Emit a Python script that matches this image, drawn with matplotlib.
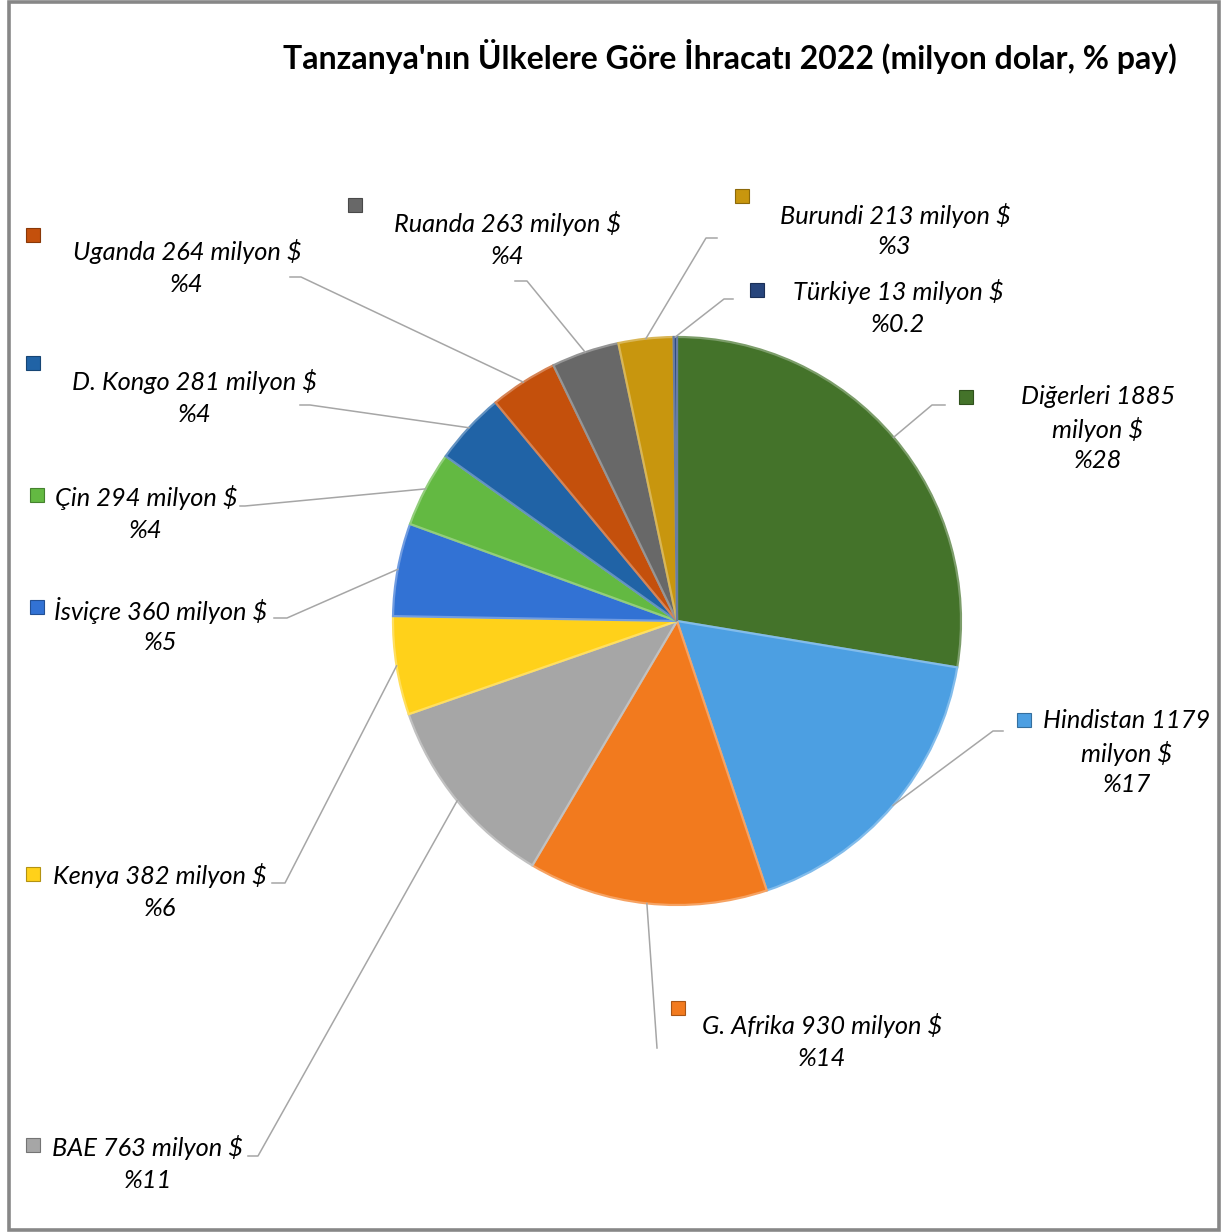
import numpy as np
import matplotlib; matplotlib.use("Agg")
import matplotlib.pyplot as plt
from matplotlib.patches import Rectangle
from matplotlib.colors import to_rgb

# data (milyon $), clockwise from 12 o'clock
countries = ["Diğerleri", "Hindistan", "G. Afrika", "BAE", "Kenya", "İsviçre",
             "Çin", "D. Kongo", "Uganda", "Ruanda", "Burundi", "Türkiye"]
values = [1885, 1179, 930, 763, 382, 360, 294, 281, 264, 263, 213, 13]
shares = ["28", "17", "14", "11", "6", "5", "4", "4", "4", "4", "3", "0.2"]
colors = ["#44732a", "#4c9fe2", "#f27a1e", "#a6a6a6", "#ffd11a", "#3272d4",
          "#63b942", "#2063a6", "#c4500c", "#686868", "#c8960e", "#27457c"]

W, H = 1223, 1232
Y = lambda y: H - y          # pixel row -> data y
CX, CY, R = 677, 621, 284

# label layout in pixels: marker (x,y), text centre x, first line y, elbow (x,y), end x
layout = {
    "Diğerleri": ((966, 397), 1098, 397, (932, 405), 945, True),
    "Hindistan": ((1024, 720), 1127, 721, (993, 731), 1003, True),
    "G. Afrika": ((678, 1008), 822, 1026, (657, 1048), 657, False),
    "BAE":       ((33, 1145), 148, 1148, (258, 1156), 248, False),
    "Kenya":     ((33, 874), 160, 876, (285, 883), 272, False),
    "İsviçre":   ((37, 607), 161, 611, (287, 618), 274, False),
    "Çin":       ((37, 495), 146, 498, (245, 506), 240, False),
    "D. Kongo":  ((33, 363), 195, 382, (310, 405), 300, False),
    "Uganda":    ((33, 235), 187, 252, (301, 277), 290, False),
    "Ruanda":    ((355, 205), 508, 224, (527, 281), 515, False),
    "Burundi":   ((742, 196), 895, 215, (706, 238), 717, False),
    "Türkiye":   ((757, 290), 898, 292, (724, 299), 733, False),
}

FONT = ["Lato", "DejaVu Sans"]
fig = plt.figure(figsize=(W / 100, H / 100), dpi=100)
ax = fig.add_axes([0, 0, 1, 1])
ax.set_xlim(0, W); ax.set_ylim(0, H); ax.set_aspect("equal"); ax.axis("off")

def lighter(c, f=0.35):
    r, g, b = to_rgb(c)
    return (r + (1 - r) * f, g + (1 - g) * f, b + (1 - b) * f)

def darker(c, f=0.7):
    r, g, b = to_rgb(c)
    return (r * f, g * f, b * f)

wedges, _ = ax.pie(values, colors=colors, startangle=90, counterclock=False,
                   center=(CX, Y(CY)), radius=R, frame=True,
                   wedgeprops=dict(linewidth=1.6))
for w, c in zip(wedges, colors):
    w.set_edgecolor(lighter(c, 0.3))
ax.set_xlim(0, W); ax.set_ylim(0, H); ax.axis("off")

for w, name, val, sh, c in zip(wedges, countries, values, shares, colors):
    (mx, my), tx, ty, (ex, ey), endx, wrap = layout[name]
    mid = np.deg2rad((w.theta1 + w.theta2) / 2)
    px, py = CX + R * np.cos(mid), Y(CY) + R * np.sin(mid)
    ax.plot([px, ex, endx], [py, Y(ey), Y(ey)], color="#a6a6a6", lw=1.1, zorder=1)
    ax.add_patch(Rectangle((mx - 7, Y(my) - 7), 14, 14, facecolor=c,
                           edgecolor=darker(c), lw=0.8))
    if wrap:
        lines = [f"{name} {val}", "milyon $", f"%{sh}"]
    else:
        lines = [f"{name} {val} milyon $", f"%{sh}"]
    for i, t in enumerate(lines):
        ax.text(tx, Y(ty + i * 32), t, ha="center", va="center", fontsize=18.3,
                style="italic", family=FONT, color="black")

ax.text(730, Y(56), "Tanzanya'nın Ülkelere Göre İhracatı 2022 (milyon dolar, % pay)",
        ha="center", va="center", fontsize=23, fontweight="bold", family=FONT)

ax.add_patch(Rectangle((9, 2), 1210, 1228, fill=False, edgecolor="#878787", lw=2.6))

fig.savefig("out.png", dpi=100)
